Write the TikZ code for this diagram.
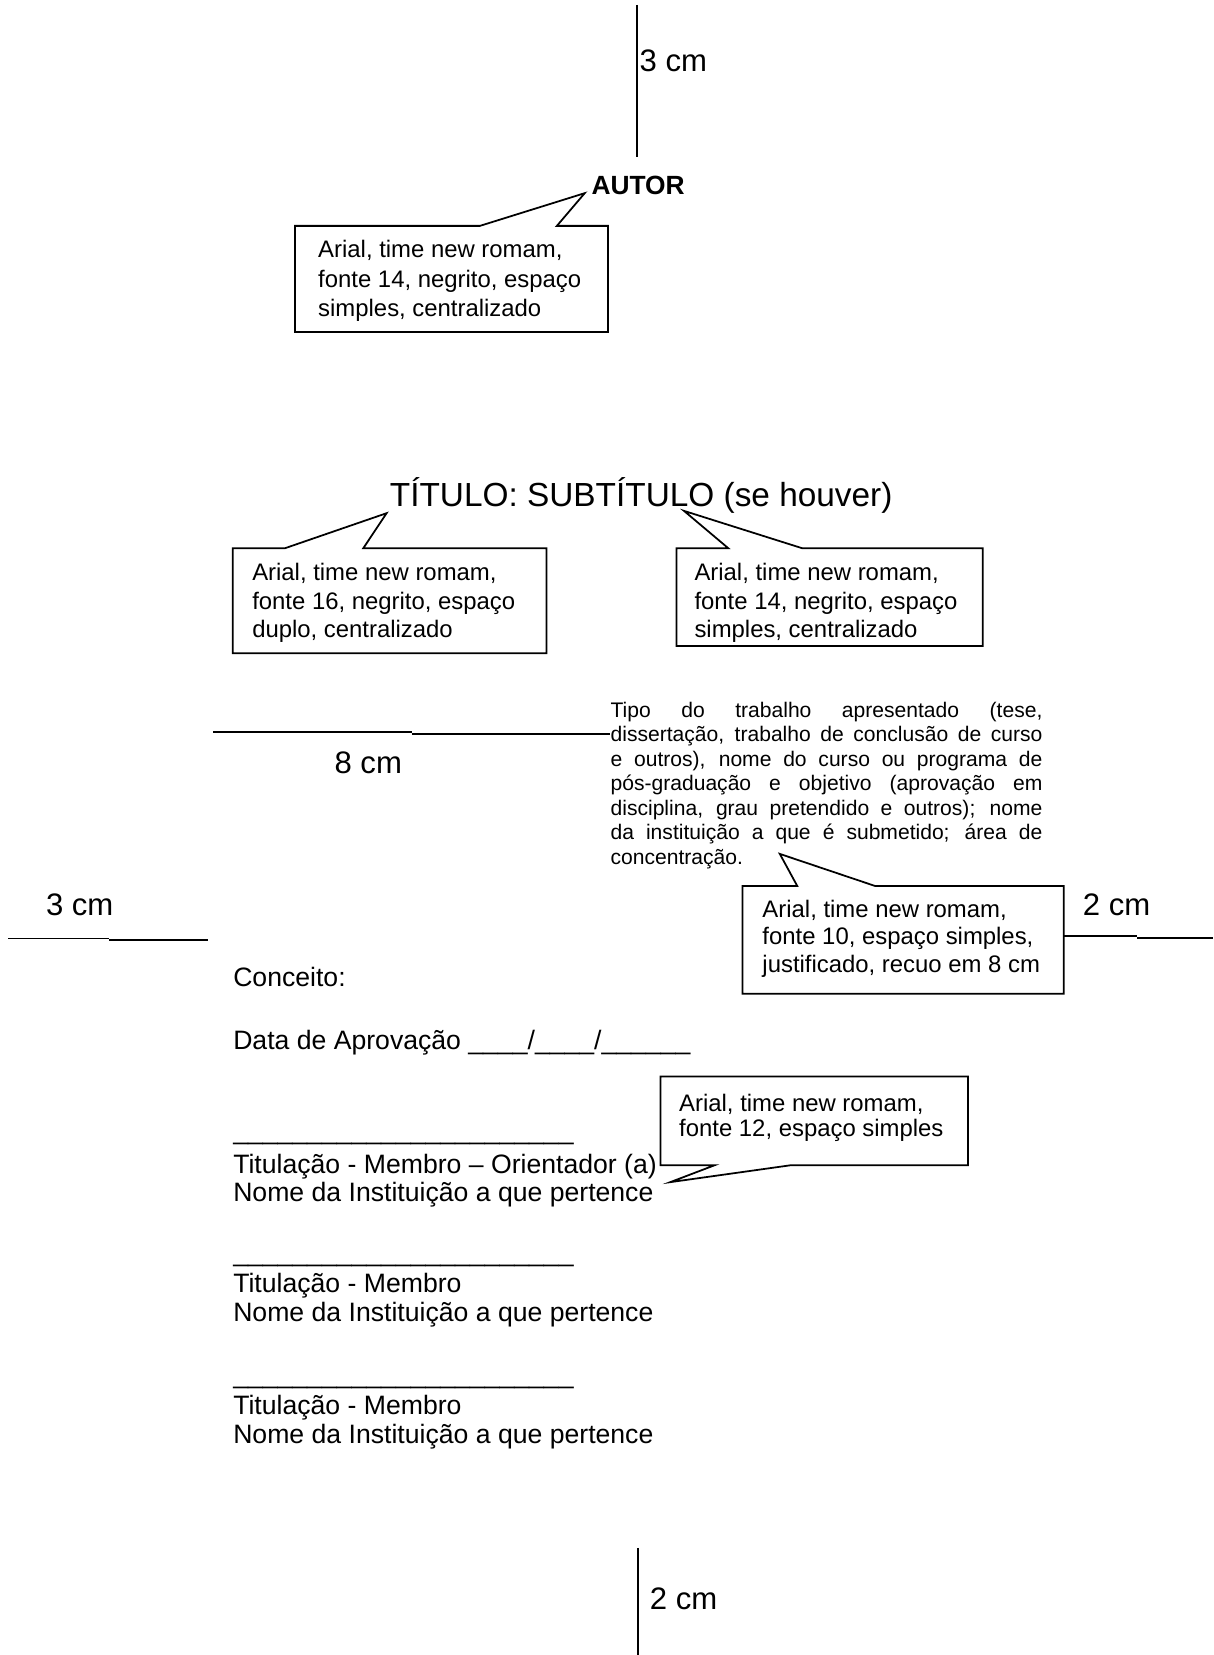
\documentclass[tikz,border=0pt]{standalone}
\usepackage{fontspec}
\setmainfont{Liberation Sans}
\begin{document}
\begin{tikzpicture}[x=0.021114cm,y=-0.021114cm,
  every node/.style={inner sep=0pt,outer sep=0pt},
  ln/.style={line width=1pt},
  bubble/.style={line width=1pt,line join=miter,fill=white},
  dimlabel/.style={anchor=base west,font=\fontsize{17.7}{21}\selectfont},
  notetxt/.style={anchor=base west,font=\fontsize{13.6}{16}\selectfont},
  bodytxt/.style={anchor=base west,font=\fontsize{15.15}{18}\selectfont},
  paratxt/.style={anchor=base west,font=\fontsize{12}{14}\selectfont}]
\useasboundingbox[fill=white] (0,0) rectangle (1150,1568);

% ---- dimension marks ----
\coordinate (topA) at (603.4,4.7);
\coordinate (topB) at (603.4,148.7);
\draw[ln] (topA) -- (topB);
\node[dimlabel] (dtop) at (606,67.3) {3 cm};

\coordinate (botA) at (604.3,1466.6);
\coordinate (botB) at (604.3,1568);
\draw[ln] (botA) -- (botB);
\node[dimlabel] (dbot) at (615.7,1525) {2 cm};

\coordinate (eA) at (202,693.7);
\coordinate (eB) at (390,693.7);
\coordinate (eC) at (390,695.6);
\coordinate (eD) at (578,695.6);
\draw[ln] (eA) -- (eB);
\draw[ln] (eC) -- (eD);
\node[dimlabel] (deight) at (317,733) {8 cm};

\coordinate (lA) at (7.9,889.1);
\coordinate (lB) at (103.6,889.1);
\coordinate (lC) at (103.6,890.7);
\coordinate (lD) at (197.3,890.7);
\draw[ln] (lA) -- (lB);
\draw[ln] (lC) -- (lD);
\node[dimlabel] (dleft) at (43.6,867.7) {3 cm};

\coordinate (rA) at (1007.9,886.6);
\coordinate (rB) at (1077.3,886.6);
\coordinate (rC) at (1077.3,888.8);
\coordinate (rD) at (1149.3,888.8);
\draw[ln] (rA) -- (rB);
\draw[ln] (rC) -- (rD);
\node[dimlabel] (dright) at (1026,867.7) {2 cm};

% ---- author ----
\node[anchor=base west,font=\fontsize{15}{18}\selectfont\bfseries] (autor) at (560.4,184.7) {AUTOR};

% callout 1
\coordinate (tip1) at (554,183);
\draw[bubble] (279.4,214) -- (454.7,214) -- (tip1) -- (527.6,214) -- (576,214) -- (576,314.5) -- (279.4,314.5) -- cycle;
\node[notetxt] (c1a) at (301.5,244) {Arial, time new romam,};
\node[notetxt] (c1b) at (301.5,272) {fonte 14, negrito, espaço};
\node[notetxt] (c1c) at (301.5,300) {simples, centralizado};

% ---- title ----
\node[anchor=base west,font=\fontsize{19}{22}\selectfont] (titulo) at (369.4,480) {TÍTULO: SUBTÍTULO (se houver)};

% callout 2
\coordinate (tip2) at (366.3,486.2);
\draw[bubble] (220.4,519.4) -- (270,519.4) -- (tip2) -- (344.2,519.4) -- (517.8,519.4) -- (517.8,619) -- (220.4,619) -- cycle;
\node[notetxt] (c2a) at (239,550) {Arial, time new romam,};
\node[notetxt] (c2b) at (239,577) {fonte 16, negrito, espaço};
\node[notetxt] (c2c) at (239,604) {duplo, centralizado};

% callout 3
\coordinate (tip3) at (648,484);
\draw[bubble] (641,519.4) -- (690,519.4) -- (tip3) -- (760,519.4) -- (931,519.4) -- (931,612) -- (641,612) -- cycle;
\node[notetxt] (c3a) at (658,550) {Arial, time new romam,};
\node[notetxt] (c3b) at (658,577) {fonte 14, negrito, espaço};
\node[notetxt] (c3c) at (658,604) {simples, centralizado};

% ---- paragraph ----
\node[paratxt] (p1) at (578.5,679.5) {\makebox[8.64cm][s]{Tipo do trabalho apresentado (tese,}};
\node[paratxt] (p2) at (578.5,702.75) {\makebox[8.64cm][s]{dissertação, trabalho de conclusão de curso}};
\node[paratxt] (p3) at (578.5,726) {\makebox[8.64cm][s]{e outros), nome do curso ou programa de}};
\node[paratxt] (p4) at (578.5,749.25) {\makebox[8.64cm][s]{pós-graduação e objetivo (aprovação em}};
\node[paratxt] (p5) at (578.5,772.5) {\makebox[8.64cm][s]{disciplina, grau pretendido e outros); nome}};
\node[paratxt] (p6) at (578.5,795.75) {\makebox[8.64cm][s]{da instituição a que é submetido; área de}};
\node[paratxt] (p7) at (578.5,819) {concentração.};

% callout 4
\coordinate (tip4) at (738.8,809);
\draw[bubble] (703.5,839.3) -- (755.3,839.3) -- (tip4) -- (828.8,839.3) -- (1007.9,839.3) -- (1007.9,941.6) -- (703.5,941.6) -- cycle;
\node[notetxt] (c4a) at (722.4,869) {Arial, time new romam,};
\node[notetxt] (c4b) at (722.4,895) {fonte 10, espaço simples,};
\node[notetxt] (c4c) at (722.4,921) {justificado, recuo em 8 cm};

% ---- body ----
\node[bodytxt] (conceito) at (221,934.6) {Conceito:};
\node[bodytxt] (data) at (221,994.6) {Data de Aprovação \_\_\_\_/\_\_\_\_/\_\_\_\_\_\_};

\node[bodytxt] (s1) at (221,1080) {\_\_\_\_\_\_\_\_\_\_\_\_\_\_\_\_\_\_\_\_\_\_\_};
\node[bodytxt] (t1) at (221,1111.4) {Titulação - Membro – Orientador (a)};
\node[bodytxt] (n1) at (221,1138) {Nome da Instituição a que pertence};

\node[bodytxt] (s2) at (221,1195.3) {\_\_\_\_\_\_\_\_\_\_\_\_\_\_\_\_\_\_\_\_\_\_\_};
\node[bodytxt] (t2) at (221,1225) {Titulação - Membro};
\node[bodytxt] (n2) at (221,1252) {Nome da Instituição a que pertence};

\node[bodytxt] (s3) at (221,1310.5) {\_\_\_\_\_\_\_\_\_\_\_\_\_\_\_\_\_\_\_\_\_\_\_};
\node[bodytxt] (t3) at (221,1340.4) {Titulação - Membro};
\node[bodytxt] (n3) at (221,1367.2) {Nome da Instituição a que pertence};

% callout 5
\coordinate (tip5) at (635,1120);
\draw[bubble] (625.8,1019.9) -- (917,1019.9) -- (917,1104) -- (749,1104) -- (tip5) -- (677,1104) -- (625.8,1104) -- cycle;
\node[notetxt] (c5a) at (643.5,1053) {Arial, time new romam,};
\node[notetxt] (c5b) at (643.5,1077) {fonte 12, espaço simples};
\end{tikzpicture}
\end{document}
